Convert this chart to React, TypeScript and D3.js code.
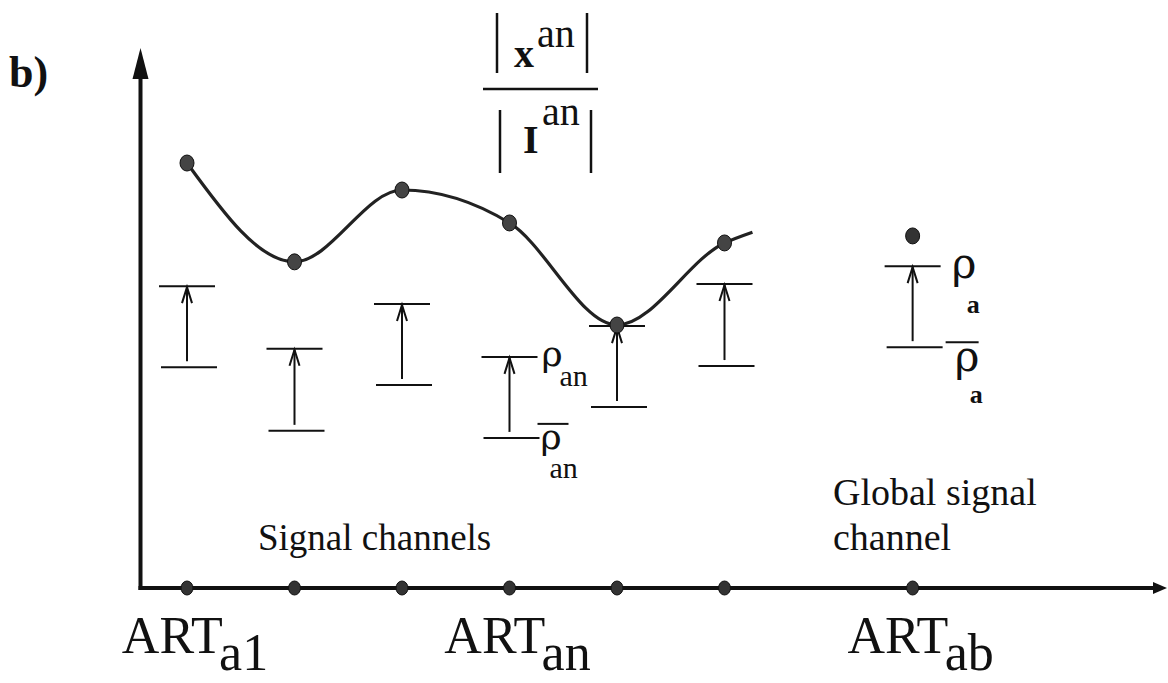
import React from "react";
import * as d3 from "d3";

// Channel positions along the horizontal axis (signal channels 1..6, global channel)
const channelPos = [1, 2, 3, 4, 5, 6];
const globalPos = 7.75;

// Normalised activation |x^an| / |I^an| for each signal channel
const activation = [0.787, 0.604, 0.737, 0.676, 0.487, 0.639];
// The smooth curve keeps going a little past the last channel
const tailPos = 6.26;
const tailValue = 0.659;

// Vigilance interval per channel: upper (rho) and lower (rho-bar) thresholds
const vigilanceHigh = [0.559, 0.443, 0.526, 0.428, 0.485, 0.563];
const vigilanceLow = [0.409, 0.291, 0.376, 0.278, 0.335, 0.411];

// Global channel value and its interval
const globalValue = 0.652;
const globalHigh = 0.596;
const globalLow = 0.446;

// Axis labels
const tickLabels = [
  { pos: 1, main: "ART", sub: "a1" },
  { pos: 4, main: "ART", sub: "an" },
  { pos: 7.75, main: "ART", sub: "ab" },
];

const W = 1168;
const H = 683;
const INK = "#111";
const SERIF = "'Liberation Serif', 'DejaVu Serif', serif";
const GREEK = "'DejaVu Serif', 'Liberation Serif', serif";

export default function App() {
  const x = d3.scaleLinear().domain([0, 10]).range([79.5, 1154.5]);
  const y = d3.scaleLinear().domain([0, 1]).range([588, 48]);

  const axisX = 140.5;
  const axisY = y(0);
  const xEnd = 1167;
  const yTop = y(1);

  const curvePts: [number, number][] = channelPos.map((p, i) => [x(p), y(activation[i])]);
  curvePts.push([x(tailPos), y(tailValue)]);
  const line = d3.line().curve(d3.curveMonotoneX);
  const curvePath = line(curvePts) || "";

  const halfW = 28;

  const interval = (cx: number, hi: number, lo: number, key: string) => {
    const yt = y(hi);
    const yb = y(lo);
    return (
      <g key={key} stroke={INK} strokeWidth={2} fill="none">
        <line x1={cx - halfW} x2={cx + halfW} y1={yt} y2={yt} />
        <line x1={cx - halfW + 2} x2={cx + halfW + 2} y1={yb} y2={yb} />
        <line x1={cx} x2={cx} y1={yb - 6} y2={yt + 1} />
        <path d={`M${cx - 5},${yt + 17} L${cx},${yt + 1} L${cx + 5},${yt + 17}`} strokeLinejoin="miter" />
      </g>
    );
  };

  const cx4 = x(channelPos[3]);
  const gx = x(globalPos);

  return (
    <svg
      width={W}
      height={H}
      viewBox={`0 0 ${W} ${H}`}
      style={{ position: "absolute", left: 0, top: 0, display: "block", background: "#fff" }}
      fontFamily={SERIF}
    >
      {/* panel tag */}
      <text x={9} y={87} fontSize={44} fontWeight="bold" fill={INK}>
        b)
      </text>

      {/* axes */}
      <line x1={axisX} x2={axisX} y1={axisY + 2} y2={yTop + 28} stroke={INK} strokeWidth={4} />
      <path d={`M${axisX},${yTop} L${axisX - 8},${yTop + 31} L${axisX + 8},${yTop + 31} Z`} fill={INK} />
      <line x1={axisX - 2} x2={xEnd - 10} y1={axisY} y2={axisY} stroke={INK} strokeWidth={4} />
      <path d={`M${xEnd},${axisY} L${xEnd - 14},${axisY - 6} L${xEnd - 14},${axisY + 6} Z`} fill={INK} />

      {/* channel markers on the axis */}
      {[...channelPos, globalPos].map((p, i) => (
        <ellipse key={`t${i}`} cx={x(p)} cy={axisY} rx={6} ry={7} fill="#333" stroke={INK} strokeWidth={1} />
      ))}

      {/* activation ratio label */}
      <g stroke={INK} strokeWidth={2.5}>
        <line x1={497} x2={497} y1={13} y2={73} />
        <line x1={587} x2={587} y1={13} y2={73} />
        <line x1={483} x2={598} y1={89} y2={89} />
        <line x1={500} x2={500} y1={110} y2={173} />
        <line x1={591} x2={591} y1={110} y2={173} />
      </g>
      <text x={514} y={67} fontSize={40} fontWeight="bold" fill={INK}>x</text>
      <text x={537} y={47} fontSize={40} fill={INK}>an</text>
      <text x={523} y={153} fontSize={40} fontWeight="bold" fill={INK}>I</text>
      <text x={542} y={125} fontSize={40} fill={INK}>an</text>

      {/* vigilance intervals */}
      {channelPos.map((p, i) => interval(x(p), vigilanceHigh[i], vigilanceLow[i], `iv${i}`))}
      {interval(gx, globalHigh, globalLow, "ivg")}

      {/* activation curve */}
      <path d={curvePath} fill="none" stroke="#222" strokeWidth={3.2} />
      {channelPos.map((p, i) => (
        <ellipse key={`c${i}`} cx={x(p)} cy={y(activation[i])} rx={7} ry={8} fill="#444" stroke={INK} strokeWidth={1} />
      ))}
      <ellipse cx={gx} cy={y(globalValue)} rx={7} ry={8} fill="#333" stroke={INK} strokeWidth={1} />

      {/* interval annotations for channel n */}
      <text x={cx4 + 32} y={y(vigilanceHigh[3]) + 9} fontSize={36} fontFamily={GREEK} fill={INK}>ρ</text>
      <text x={cx4 + 50} y={y(vigilanceHigh[3]) + 29} fontSize={30} fill={INK}>an</text>
      <line x1={cx4 + 28} x2={cx4 + 59} y1={y(vigilanceLow[3]) - 14} y2={y(vigilanceLow[3]) - 14} stroke={INK} strokeWidth={2} />
      <text x={cx4 + 31} y={y(vigilanceLow[3]) + 11} fontSize={36} fontFamily={GREEK} fill={INK}>ρ</text>
      <text x={cx4 + 40} y={y(vigilanceLow[3]) + 40} fontSize={30} fill={INK}>an</text>

      {/* interval annotations for the global channel */}
      <text x={gx + 39} y={y(globalHigh) + 12} fontSize={42} fontFamily={GREEK} fill={INK}>ρ</text>
      <text x={gx + 54} y={y(globalHigh) + 47} fontSize={26} fontWeight="bold" fill={INK}>a</text>
      <line x1={gx + 33} x2={gx + 66} y1={y(globalLow) - 5} y2={y(globalLow) - 5} stroke={INK} strokeWidth={2} />
      <text x={gx + 42} y={y(globalLow) + 24} fontSize={42} fontFamily={GREEK} fill={INK}>ρ</text>
      <text x={gx + 57} y={y(globalLow) + 56} fontSize={26} fontWeight="bold" fill={INK}>a</text>

      {/* group captions */}
      <text x={258} y={550} fontSize={37} fill={INK}>Signal channels</text>
      <text x={833} y={505} fontSize={38} fill={INK}>Global signal</text>
      <text x={833} y={550} fontSize={38} fill={INK}>channel</text>

      {/* channel tick labels */}
      {tickLabels.map((t, i) => (
        <text key={`l${i}`} x={x(t.pos) + 8} y={653} fontSize={52} textAnchor="middle" fill={INK}>
          {t.main}
          <tspan dy={17}>{t.sub}</tspan>
        </text>
      ))}
    </svg>
  );
}
